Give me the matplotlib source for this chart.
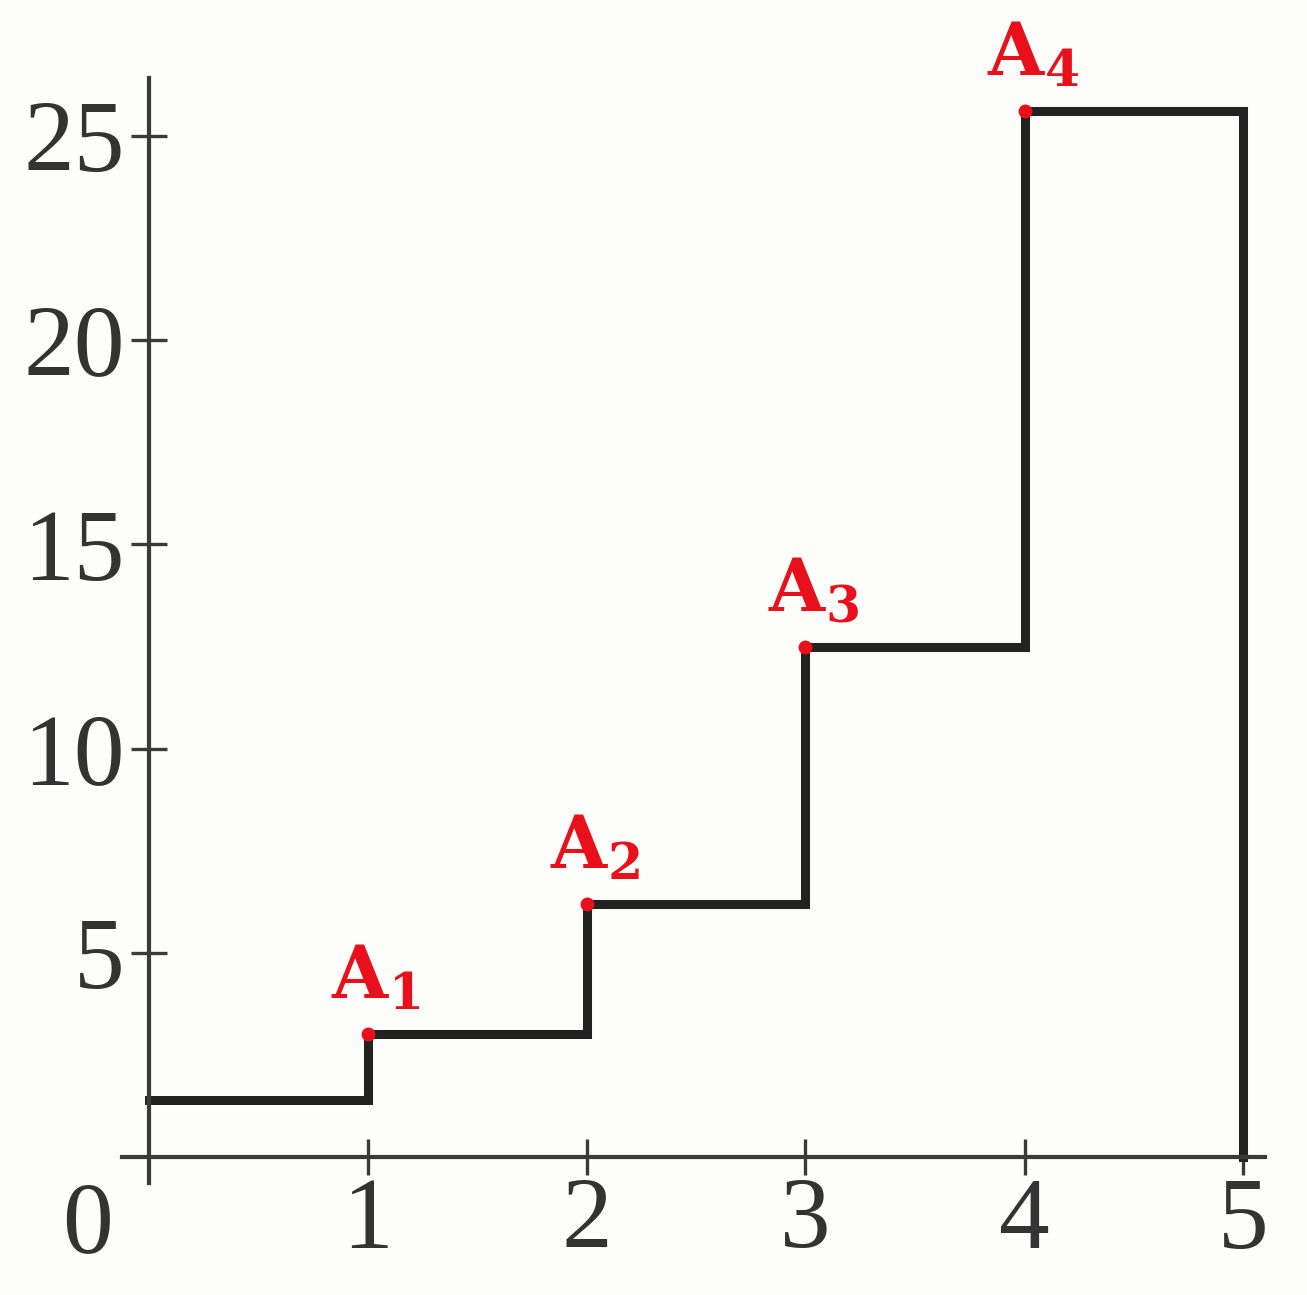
import matplotlib.pyplot as plt

# step heights on the intervals [0,1], [1,2], ..., [4,5]
edges = [0, 1, 2, 3, 4, 5]
heights = [1.4, 3.0, 6.2, 12.5, 25.6]
point_labels = ['1', '2', '3', '4']
xticks = [1, 2, 3, 4, 5]
yticks = [5, 10, 15, 20, 25]

plt.rcParams['mathtext.fontset'] = 'custom'
plt.rcParams['mathtext.bf'] = 'DejaVu Serif:bold'

W, H = 1307, 1295
fig = plt.figure(figsize=(W / 100, H / 100), dpi=100, facecolor='#fdfdfb')
ax = fig.add_axes([0, 0, 1, 1])
ax.set_facecolor('#fdfdfb')

# pixel layout of the reference
x0_px, sx = 148.5, 219.0
y0_px, y25_px = 1157, 136
sy = (y0_px - y25_px) / 25
ax.set_xlim(-x0_px / sx, (W - x0_px) / sx)
ax.set_ylim(-(H - y0_px) / sy, y0_px / sy)

axis_col = '#3a3a3a'
for s in ['top', 'right']:
    ax.spines[s].set_visible(False)
ax.spines['left'].set_position(('data', 0))
ax.spines['bottom'].set_position(('data', 0))
ax.spines['left'].set_bounds(-26 / sy, (y0_px - 78) / sy)
ax.spines['bottom'].set_bounds(-27 / sx, (1265 - x0_px) / sx)
for s in ['left', 'bottom']:
    ax.spines[s].set_color(axis_col)
    ax.spines[s].set_linewidth(3)

ax.set_xticks(xticks)
ax.set_yticks(yticks)
ax.tick_params(direction='inout', length=26, width=2.4, color=axis_col,
               labelcolor='#333333', labelsize=73)
ax.tick_params(axis='x', pad=2)
ax.tick_params(axis='y', pad=4)
for lab in ax.get_xticklabels() + ax.get_yticklabels():
    lab.set_fontfamily('Liberation Serif')
ax.annotate('0', xy=(0, 0), xytext=(-44, -18), textcoords='offset points',
            ha='center', va='top', fontsize=73, family='Liberation Serif',
            color='#333333')

# staircase, closed down to the axis at x = 5
xs = edges + [edges[-1]]
ys = heights + [heights[-1], 0]
ax.step(xs, ys, where='post', color='#222222', lw=6.5, solid_joinstyle='miter')

red = '#e8101a'
px = edges[1:5]
py = heights[1:5]
ax.plot(px, py, 'o', color=red, ms=9, zorder=5)
for xi, yi, lab in zip(px, py, point_labels):
    ax.annotate(r'$\mathbf{A}_{\mathbf{' + lab + '}}$', xy=(xi, yi),
                xytext=(6, 15), textcoords='offset points', ha='center',
                va='bottom', fontsize=52, color=red)

fig.savefig('out.png', dpi=100, facecolor=fig.get_facecolor())
